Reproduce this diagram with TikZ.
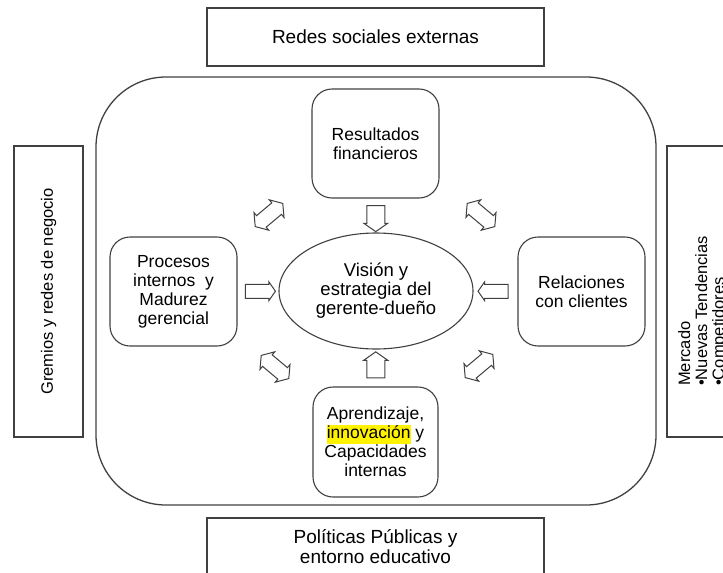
\documentclass[tikz,border=0pt]{standalone}
\usepackage{fontspec}
\setmainfont{Liberation Sans}
\usetikzlibrary{shapes.geometric,shapes.arrows,calc}

\definecolor{linegray}{gray}{0.25}
\definecolor{hilite}{RGB}{255,242,0}
\setlength{\fboxsep}{0pt}

\begin{document}
\begin{tikzpicture}[x=1pt,y=-1pt,
    outerbox/.style={draw=linegray,line width=1.2pt,inner sep=0pt},
    innerbox/.style={draw=linegray,line width=1.1pt,rounded corners=20pt,
      minimum width=127pt,minimum height=109pt,align=center,inner sep=0pt,
      font=\fontsize{17.5}{19}\selectfont},
    blockarrow/.style={single arrow,draw=linegray,line width=1pt,
      single arrow tip angle=110},
    twoway/.style={double arrow,draw=linegray,line width=1pt,inner xsep=0pt,inner ysep=7pt,
      minimum height=36pt,double arrow head extend=4pt,
      double arrow tip angle=110}]

  \useasboundingbox (0,0) rectangle (723,573);

  \draw[linegray,line width=1.3pt,rounded corners=70pt] (96,77) rectangle (656,505);

  \begin{scope}[every node/.append style={font=\fontsize{19}{20}\selectfont}]
    \node[outerbox,minimum width=337pt,minimum height=58pt] (redes) at (375.5,37) {Redes sociales externas};
    \node[outerbox,minimum width=337pt,minimum height=58pt,align=center] (politicas) at (375.5,547) {Políticas Públicas y\\entorno educativo};
  \end{scope}

  \begin{scope}[every node/.append style={font=\fontsize{16.5}{17}\selectfont}]
    \node[outerbox,rotate=90,minimum width=291pt,minimum height=69pt] (gremios) at (48.5,291.5) {Gremios y redes de negocio};
    \node[outerbox,rotate=90,minimum width=291pt,minimum height=69pt] (mercado) at (701.5,291.5) {};
    \node[rotate=90,anchor=north west,align=left,inner sep=0pt] (mercadotxt) at (678,386) {Mercado\\•Nuevas Tendencias\\•Competidores};
  \end{scope}

  \node[ellipse,draw=linegray,line width=1.1pt,minimum width=194pt,minimum height=116pt,
    inner sep=0pt,align=center,font=\fontsize{18.5}{19}\selectfont] (vision) at (376,291) {Visión y\\estrategia del\\gerente-dueño};

  \node[innerbox] (resultados) at (375.5,143.5) {Resultados\\financieros};
  \node[innerbox] (procesos) at (173.5,291.5) {Procesos\\internos \ y\\Madurez\\gerencial};
  \node[innerbox] (relaciones) at (581.5,291.5) {Relaciones\\con clientes};
  \node[innerbox,minimum width=125pt,minimum height=110pt] (aprendizaje) at (375.5,442) {Aprendizaje,\\\colorbox{hilite}{\strut innovación} y\\Capacidades\\internas};

  \begin{scope}[every node/.append style={blockarrow,inner xsep=0pt,inner ysep=8.5pt,minimum height=26pt,single arrow head extend=3pt}]
    \node[rotate=-90] (resvis) at ($(resultados.south)!0.5!(vision.north)$) {};
    \node[rotate=90] (aprvis) at ($(aprendizaje.north)!0.5!(vision.south)$) {};
  \end{scope}
  \begin{scope}[every node/.append style={blockarrow,inner xsep=0pt,inner ysep=6.5pt,minimum height=30pt,single arrow head extend=2.5pt}]
    \node (provis) at ($(procesos.east)!0.5!(vision.west)$) {};
    \node[rotate=180] (relvis) at ($(relaciones.west)!0.5!(vision.east)$) {};
  \end{scope}

  \node[twoway,rotate=40] (procres) at (269,215) {};
  \node[twoway,rotate=-40] (resrel) at (481,215) {};
  \node[twoway,rotate=-40] (procapr) at (275,367) {};
  \node[twoway,rotate=40] (aprrel) at (479,366) {};

\end{tikzpicture}
\end{document}
